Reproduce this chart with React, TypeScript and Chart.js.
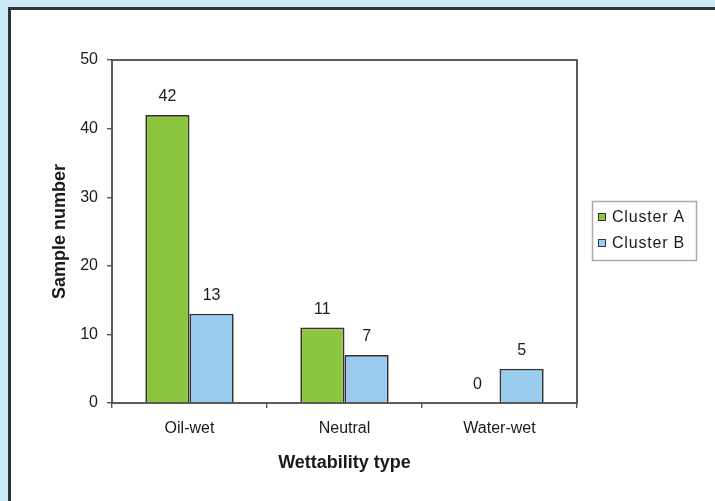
import React, { useEffect, useRef } from "react";
import { Chart, registerables } from "chart.js";

Chart.register(...registerables);

const categories = ["Oil-wet", "Neutral", "Water-wet"];
const clusterA = [42, 11, 0];
const clusterB = [13, 7, 5];
const seriesLabels = ["Cluster A", "Cluster B"];
const yTicks = [0, 10, 20, 30, 40, 50];
const xTitle = "Wettability type";
const yTitle = "Sample number";

const FONT = "'Liberation Sans', Arial, sans-serif";
const GREEN = "#8cc63f";
const BLUE = "#99ccee";
const EDGE = "#333";
const TEXT = "#1a1a1a";

const frame = {
  id: "frame",
  afterDatasetsDraw(chart: any) {
    const { ctx, chartArea: a } = chart;
    ctx.save();
    ctx.strokeStyle = "#4a4a4a";
    ctx.lineWidth = 1.8;
    ctx.strokeRect(a.left, a.top, a.right - a.left, a.bottom - a.top);
    ctx.restore();
  },
};

const valueLabels = {
  id: "valueLabels",
  afterDatasetsDraw(chart: any) {
    const { ctx } = chart;
    ctx.save();
    ctx.font = `16px ${FONT}`;
    ctx.fillStyle = TEXT;
    ctx.textAlign = "center";
    ctx.textBaseline = "middle";
    chart.data.datasets.forEach((ds: any, i: number) => {
      const meta = chart.getDatasetMeta(i);
      meta.data.forEach((bar: any, j: number) => {
        ctx.fillText(String(ds.data[j]), bar.x, bar.y - 18);
      });
    });
    ctx.restore();
  },
};

const customLegend = {
  id: "customLegend",
  afterDraw(chart: any) {
    const { ctx } = chart;
    ctx.save();
    ctx.strokeStyle = "#aaa";
    ctx.lineWidth = 1.5;
    ctx.strokeRect(592.5, 201.5, 104, 59);
    ctx.font = `16px ${FONT}`;
    (ctx as any).letterSpacing = "0.8px";
    ctx.textAlign = "left";
    ctx.textBaseline = "middle";
    chart.data.datasets.forEach((ds: any, i: number) => {
      const cy = 217 + i * 26;
      ctx.fillStyle = ds.backgroundColor;
      ctx.fillRect(598, cy - 4, 8, 8);
      ctx.strokeStyle = EDGE;
      ctx.lineWidth = 1;
      ctx.strokeRect(598.5, cy - 3.5, 7, 7);
      ctx.fillStyle = TEXT;
      ctx.fillText(ds.label, 612, cy + 1);
    });
    ctx.restore();
  },
};

export default function App() {
  const ref = useRef<HTMLCanvasElement>(null);
  useEffect(() => {
    if (!ref.current) return;
    const chart = new Chart(ref.current, {
      type: "bar",
      data: {
        labels: categories,
        datasets: [
          { label: seriesLabels[0], data: clusterA, backgroundColor: GREEN, borderColor: EDGE, borderWidth: 1.8 },
          { label: seriesLabels[1], data: clusterB, backgroundColor: BLUE, borderColor: EDGE, borderWidth: 1.8 },
        ],
      },
      options: {
        animation: false,
        responsive: false,
        maintainAspectRatio: false,
        layout: { padding: { left: 0, top: 60, right: 138, bottom: 0 } },
        datasets: { bar: { barPercentage: 1, categoryPercentage: 0.57 } },
        plugins: { legend: { display: false }, tooltip: { enabled: false } },
        scales: {
          x: {
            grid: { display: true, offset: true, drawOnChartArea: false, drawTicks: true, tickLength: 5, color: "#555", lineWidth: 1.4 },
            border: { display: false },
            ticks: { color: TEXT, font: { family: FONT, size: 16 }, padding: 11, maxRotation: 0 },
            title: { display: true, text: xTitle, color: TEXT, font: { family: FONT, size: 18, weight: "bold" }, padding: { top: 0, bottom: 27 } },
            afterFit(scale: any) { scale.height = 98; },
          },
          y: {
            min: 0,
            max: 50,
            afterBuildTicks(scale: any) { scale.ticks = yTicks.map((v) => ({ value: v })); },
            grid: { display: true, drawOnChartArea: false, drawTicks: true, tickLength: 5, color: "#555", lineWidth: 1.4 },
            border: { display: false },
            ticks: { color: TEXT, font: { family: FONT, size: 16 }, padding: 9 },
            title: { display: true, text: yTitle, color: TEXT, font: { family: FONT, size: 18, weight: "bold" }, padding: { top: 49, bottom: 0 } },
            afterFit(scale: any) { scale.width = 112; },
          },
        },
      },
      plugins: [frame, valueLabels, customLegend],
    });
    return () => chart.destroy();
  }, []);

  return (
    <div style={{ position: "fixed", left: 0, top: 0, width: 715, height: 501, background: "#c9e8f8", overflow: "hidden" }}>
      <div style={{ position: "absolute", left: 8, top: 7, width: 720, height: 510, background: "#fff", borderLeft: "3px solid #333", borderTop: "3px solid #333" }} />
      <canvas ref={ref} width={715} height={501} style={{ position: "absolute", left: 0, top: 0, width: 715, height: 501 }} />
    </div>
  );
}
